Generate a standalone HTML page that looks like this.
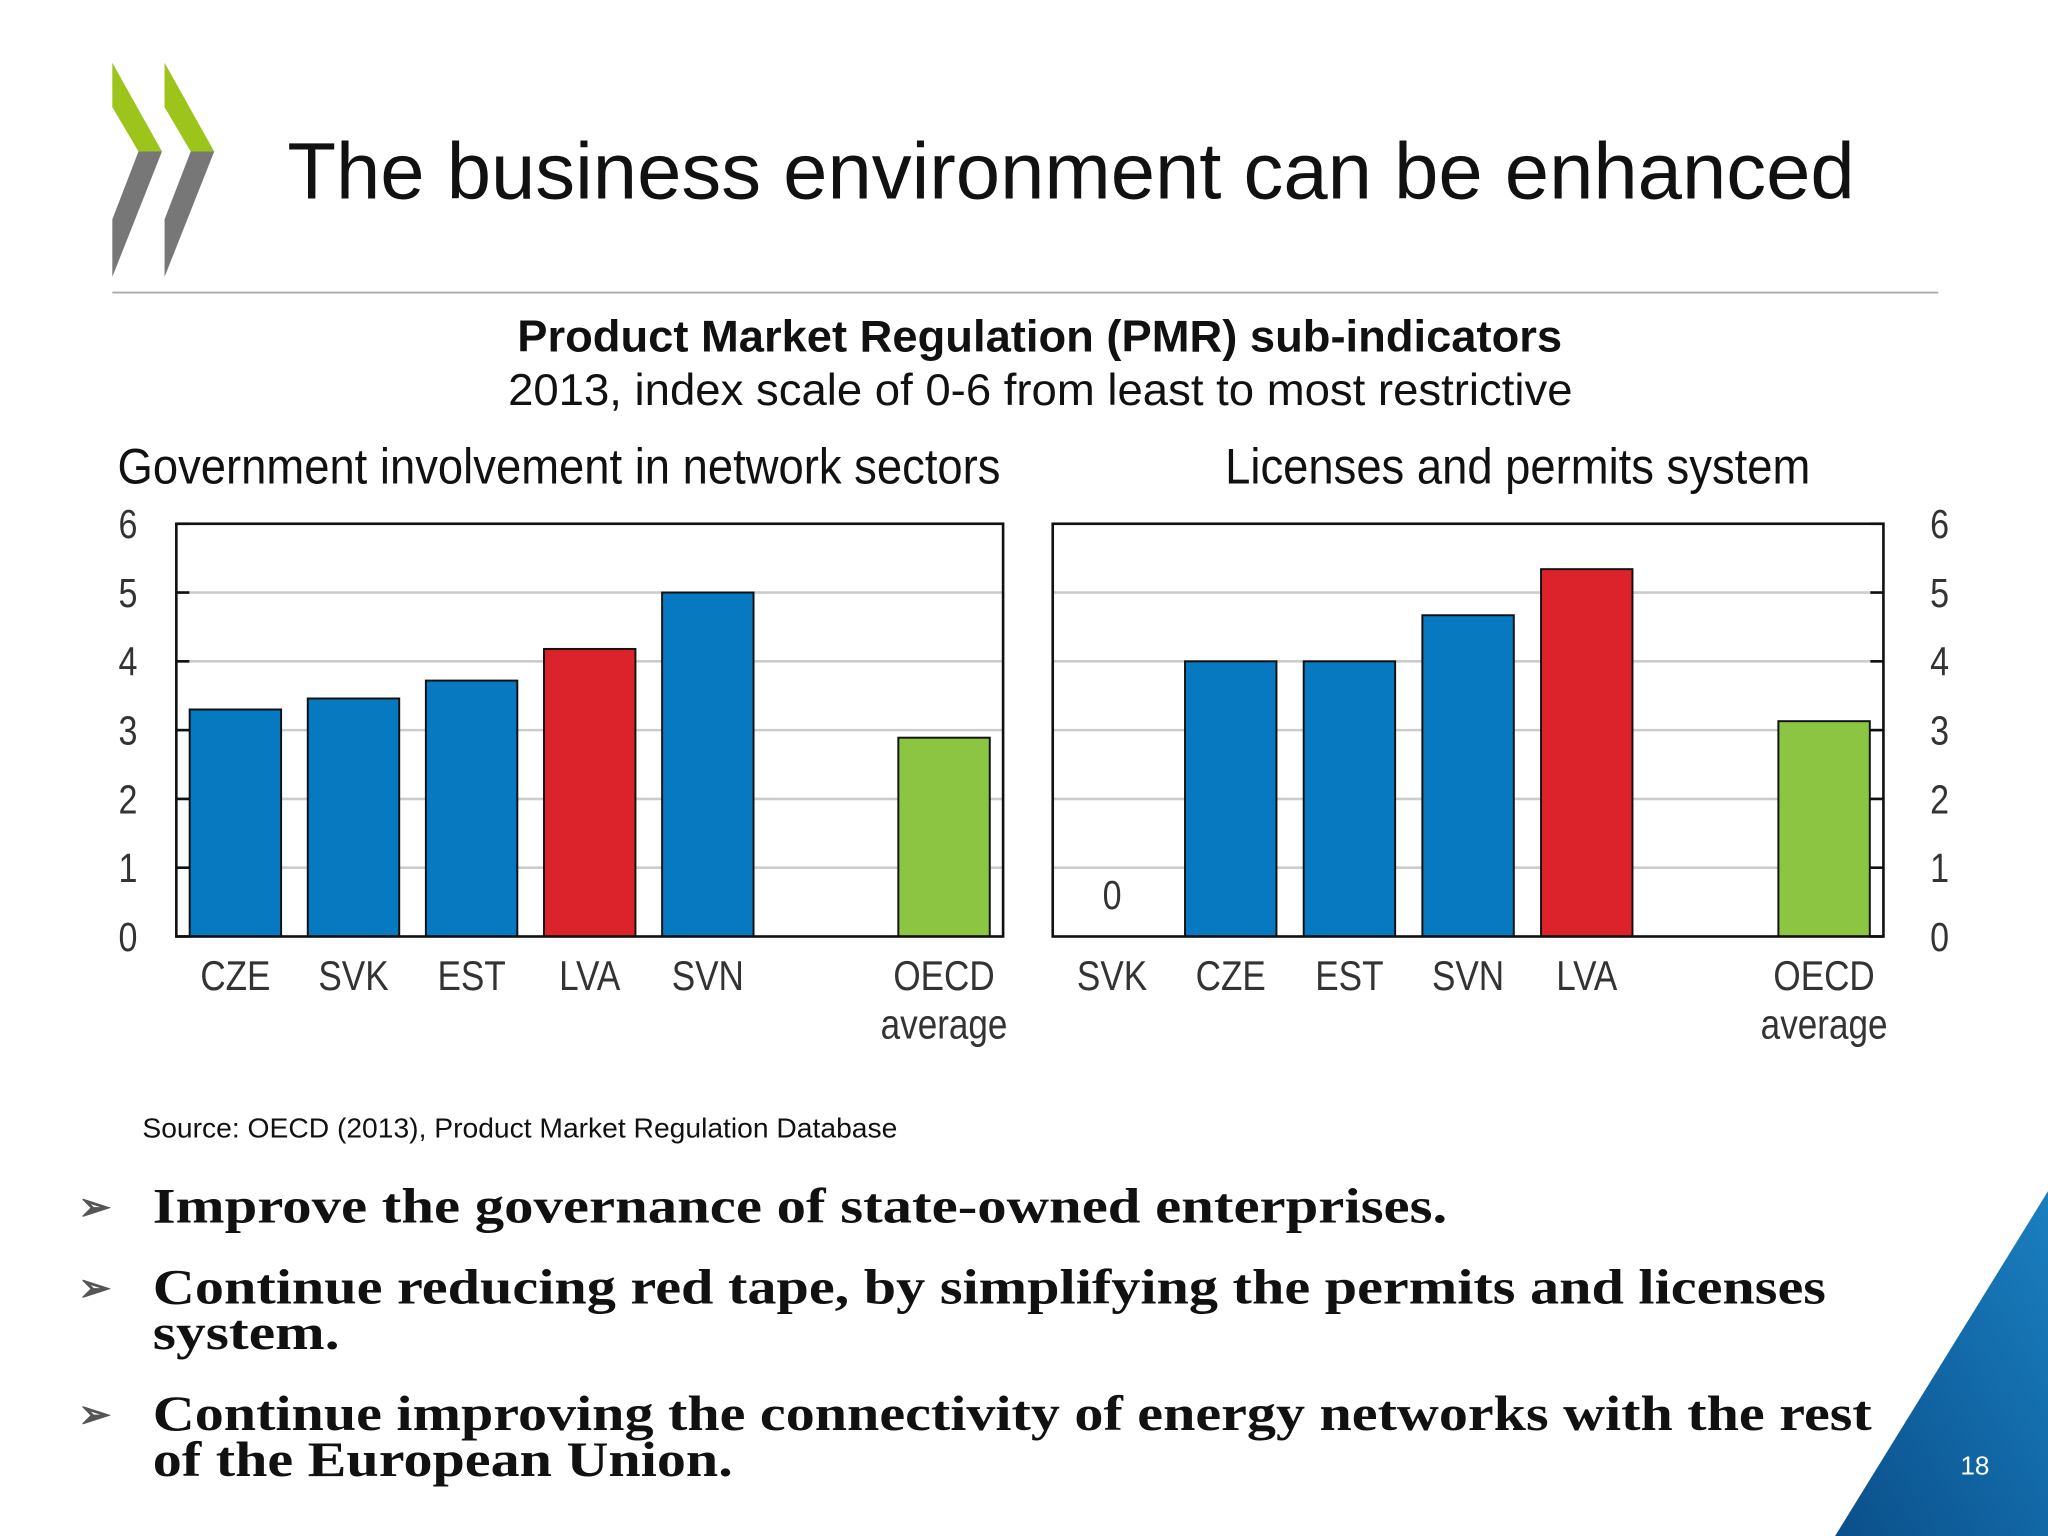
<!DOCTYPE html>
<html><head><meta charset="utf-8"><style>
html,body{margin:0;padding:0;background:#fff}
svg{display:block}
</style></head><body>
<svg width="2048" height="1536" viewBox="0 0 1568 1176" xmlns="http://www.w3.org/2000/svg" font-family="Liberation Sans, sans-serif">
<defs><linearGradient id="tri" x1="0" y1="1" x2="1" y2="0"><stop offset="0" stop-color="#0a4f8a"/><stop offset="1" stop-color="#1a7fc0"/></linearGradient></defs>
<g>
<polygon points="86,48 86,82 106,116 124,116" fill="#9dc41a"/>
<polygon points="126,48 126,82 146,116 164,116" fill="#9dc41a"/>
<polygon points="86,212 86,168 106,116 124,116" fill="#777"/>
<polygon points="126,212 126,168 146,116 164,116" fill="#777"/>
</g>
<text x="220" y="152" font-size="61" textLength="1200" lengthAdjust="spacingAndGlyphs" fill="#111">The business environment can be enhanced</text>
<line x1="86" y1="224" x2="1484" y2="224" stroke="#aaa" stroke-width="1.5"/>
<text x="396" y="269" font-size="34" font-weight="bold" textLength="800" lengthAdjust="spacingAndGlyphs" fill="#111">Product Market Regulation (PMR) sub-indicators</text>
<text x="389" y="310" font-size="34" textLength="815" lengthAdjust="spacingAndGlyphs" fill="#111">2013, index scale of 0-6 from least to most restrictive</text>
<text x="90" y="370" font-size="38" textLength="676" lengthAdjust="spacingAndGlyphs" fill="#111">Government involvement in network sectors</text>
<text x="938" y="370" font-size="38" textLength="448" lengthAdjust="spacingAndGlyphs" fill="#111">Licenses and permits system</text>
<g id="charts"></g>
<text x="109" y="871" font-size="21" textLength="578" lengthAdjust="spacingAndGlyphs" fill="#111">Source: OECD (2013), Product Market Regulation Database</text>
<g font-family="Liberation Serif, serif" font-weight="bold" font-size="38" fill="#111">
<text x="60" y="934" font-size="30" fill="#555">➢</text>
<text x="117" y="936" textLength="991" lengthAdjust="spacingAndGlyphs">Improve the governance of state-owned enterprises.</text>
<text x="60" y="996" font-size="30" fill="#555">➢</text>
<text x="117" y="998" textLength="1281" lengthAdjust="spacingAndGlyphs">Continue reducing red tape, by simplifying the permits and licenses</text>
<text x="117" y="1033" textLength="143" lengthAdjust="spacingAndGlyphs">system.</text>
<text x="60" y="1093" font-size="30" fill="#555">➢</text>
<text x="117" y="1095" textLength="1316" lengthAdjust="spacingAndGlyphs">Continue improving the connectivity of energy networks with the rest</text>
<text x="117" y="1130" textLength="444" lengthAdjust="spacingAndGlyphs">of the European Union.</text>
</g>
<polygon points="1405,1176 1568,912 1568,1176" fill="url(#tri)"/>
<text x="1512" y="1129" font-size="20" fill="#fff" text-anchor="middle">18</text>
</svg>
<script>
const leftCats = ["CZE","SVK","EST","LVA","SVN","","OECD"];
const leftVals = [3.3, 3.46, 3.72, 4.18, 5.0, null, 2.89];
const leftColors = ["#0779c0","#0779c0","#0779c0","#dc232c","#0779c0",null,"#8bc541"];
const rightCats = ["SVK","CZE","EST","SVN","LVA","","OECD"];
const rightVals = [0, 4.0, 4.0, 4.67, 5.34, null, 3.13];
const rightColors = ["#0779c0","#0779c0","#0779c0","#0779c0","#dc232c",null,"#8bc541"];
const yTicks = [0,1,2,3,4,5,6];
const NS="http://www.w3.org/2000/svg";
const g=document.getElementById('charts');
function mk(tag,attrs,parent){const e=document.createElementNS(NS,tag);for(const k in attrs)e.setAttribute(k,attrs[k]);(parent||g).appendChild(e);return e;}
function narrow(t){const w=t.getComputedTextLength();if(w>0){t.setAttribute('textLength',(w*0.84).toFixed(1));t.setAttribute('lengthAdjust','spacingAndGlyphs');}}
function panel(name,x0,x1,cats,vals,cols,side){
  const y0=717,yTop=401;
  const ys=v=>y0-(v/6)*(y0-yTop);
  const slot=(x1-x0)/cats.length;
  const xs=i=>x0+slot*(i+0.5);
  const grp=mk('g',{});
  
  
  yTicks.forEach(t=>{
    if(t>0&&t<6){const l=mk('line',{x1:x0,x2:x1,y1:ys(t),y2:ys(t),stroke:'#ccc','stroke-width':2},grp);
    
    }
    const tx=side==='left'?x0:x1;
    const tk=mk('line',{x1:tx,x2:side==='left'?tx+10:tx-10,y1:ys(t),y2:ys(t),stroke:'#111','stroke-width':2},grp);
    
    
    const lb=mk('text',{x:side==='left'?98:1485,y:ys(t)+11,'font-size':31,'text-anchor':'middle',fill:'#333'},grp);
    lb.textContent=t;
    
    
    narrow(lb);
  });
  vals.forEach((v,i)=>{
    if(v===null)return;
    if(v>0){const r=mk('rect',{x:xs(i)-35,y:ys(v),width:70,height:y0-ys(v),fill:cols[i],stroke:'#111','stroke-width':1.5},grp);
    
    }
    else{const z=mk('text',{x:xs(i),y:ys(v)-21,'font-size':31,'text-anchor':'middle',fill:'#333'},grp);
    z.textContent=String(v);
    
    
    narrow(z);}
  });
  cats.forEach((c,i)=>{
    if(!c)return;
    const t=mk('text',{x:xs(i),y:758,'font-size':32,'text-anchor':'middle',fill:'#333'},grp);
    t.textContent=c;
    
    
    narrow(t);
    if(c==='OECD'){const a=mk('text',{x:xs(i),y:795,'font-size':32,'text-anchor':'middle',fill:'#333'},grp);
    a.textContent='average';
    
    
    narrow(a);}
  });
  const fr=mk('rect',{x:x0,y:yTop,width:x1-x0,height:y0-yTop,fill:'none',stroke:'#111','stroke-width':2},grp);
  
  
}
panel('network-sectors',135,768,leftCats,leftVals,leftColors,'left');
panel('licenses-permits',806,1442,rightCats,rightVals,rightColors,'right');
</script>
</body></html>
